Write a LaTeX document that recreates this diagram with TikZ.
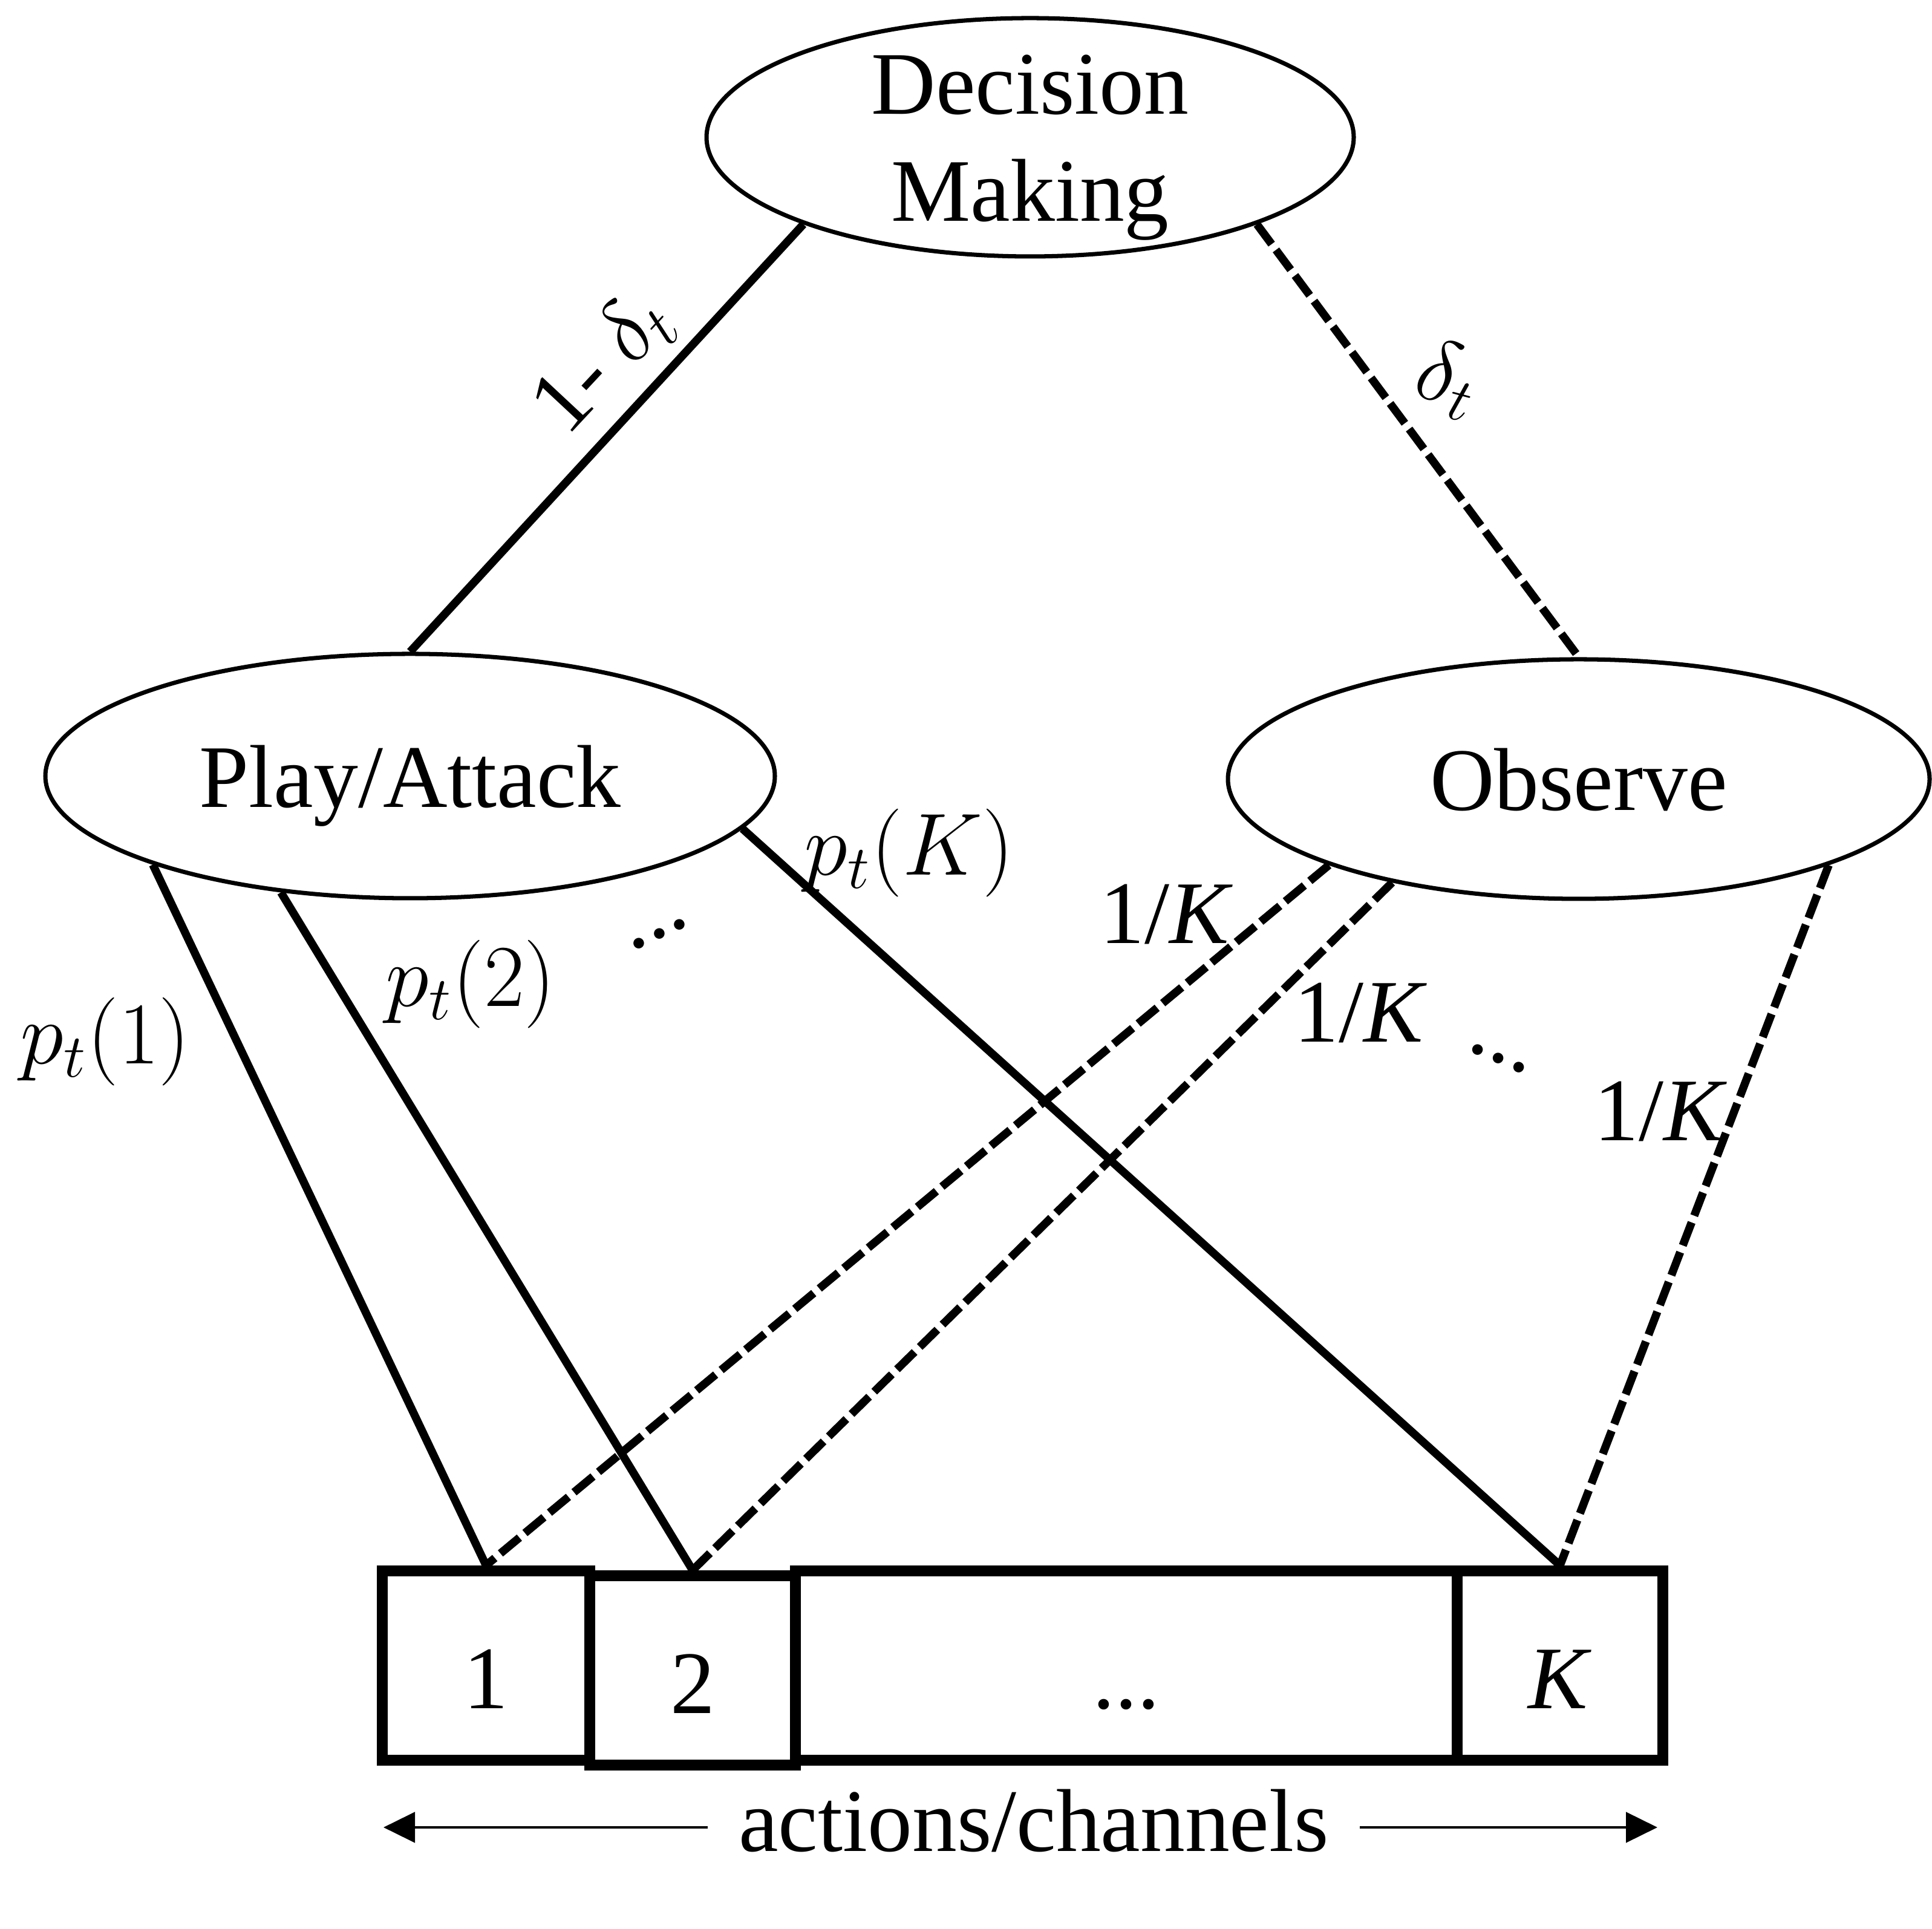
\documentclass[tikz,border=0pt]{standalone}
\usepackage{fontspec}
\setmainfont{Liberation Serif}
\usetikzlibrary{arrows.meta,shapes.geometric}

\begin{document}
\begin{tikzpicture}[
    font=\fontsize{21}{25.2}\selectfont,
    mode/.style={draw, ellipse, line width=1pt, inner sep=0pt, text depth=0pt},
    slot/.style={draw, line width=2.6pt, minimum height=15.65mm, inner sep=0pt,
      text height=7.1mm, text depth=0pt},
    prob/.style={inner sep=1pt},
    play/.style={line width=1.9pt},
    watch/.style={line width=1.9pt, dash pattern=on 5.8pt off 1.7pt},
    span/.style={{Triangle[length=2.6mm, width=2.5mm]}-, line width=0.7pt}
  ]
    \useasboundingbox (0,0) rectangle (15.97,15.94);

    % decision levels
    \node[mode, minimum width=53.5mm, minimum height=19.7mm] (dm) at (8.515,14.805) {};
    \node[align=center] (dmtext) at (8.515,14.72) {Decision\\Making};
    \node[mode, minimum width=60.3mm, minimum height=20.2mm] (pa) at (3.39,9.525) {Play/Attack};
    \node[mode, minimum width=58mm, minimum height=19.8mm] (obs) at (13.05,9.5) {Observe};

    % channels
    \node[slot, minimum width=17.15mm] (ch1) at (4.0175,2.1725) {1};
    \node[slot, minimum width=17mm] (ch2) at (5.725,2.1325) {2};
    \node[slot, minimum width=54.7mm] (chdots) at (9.31,2.1725) {...};
    \node[slot, minimum width=17mm] (chK) at (12.895,2.1725) {\textit{K}};

    \draw[play] (dm.201) -- (pa.north);
    \draw[watch] (dm.339) -- (obs.north);
    \draw[play] (pa.199) -- (ch1.north);
    \draw[play] (pa.222) -- (ch2.north);
    \draw[play] (pa.351) -- (chK.north);
    \draw[watch] (obs.199) -- (ch1.north);
    \draw[watch] (obs.209) -- (ch2.north);
    \draw[watch] (obs.341) -- (chK.north);

    % probabilities
    \node[prob, rotate=47] (lplay) at (4.99,12.935) {1- $\delta_t$};
    \node[prob, rotate=-15] (lobs) at (11.965,12.805) {$\delta_t$};
    \node[prob] (lp1) at (0.87,7.33) {$p_t(1)$};
    \node[prob] (lp2) at (3.89,7.805) {$p_t(2)$};
    \node[prob, rotate=25] (lpdots) at (5.45,8.22) {...};
    \node[prob] (lpK) at (7.515,8.89) {$p_t(K)$};
    \node[prob] (lk1) at (9.64,8.38) {1/\textit{K}};
    \node[prob] (lk2) at (11.245,7.565) {1/\textit{K}};
    \node[prob, rotate=-23] (lkdots) at (12.385,7.19) {...};
    \node[prob] (lkK) at (13.725,6.75) {1/\textit{K}};

    % axis
    \coordinate (axl) at (3.17,0.835);
    \coordinate (axr) at (13.70,0.835);
    \node[inner sep=2.5mm] (axis) at (8.545,0.89) {actions/channels};
    \draw[span] (axl) -- (axis.west |- axl);
    \draw[span] (axr) -- (axis.east |- axr);
  \end{tikzpicture}
\end{document}
